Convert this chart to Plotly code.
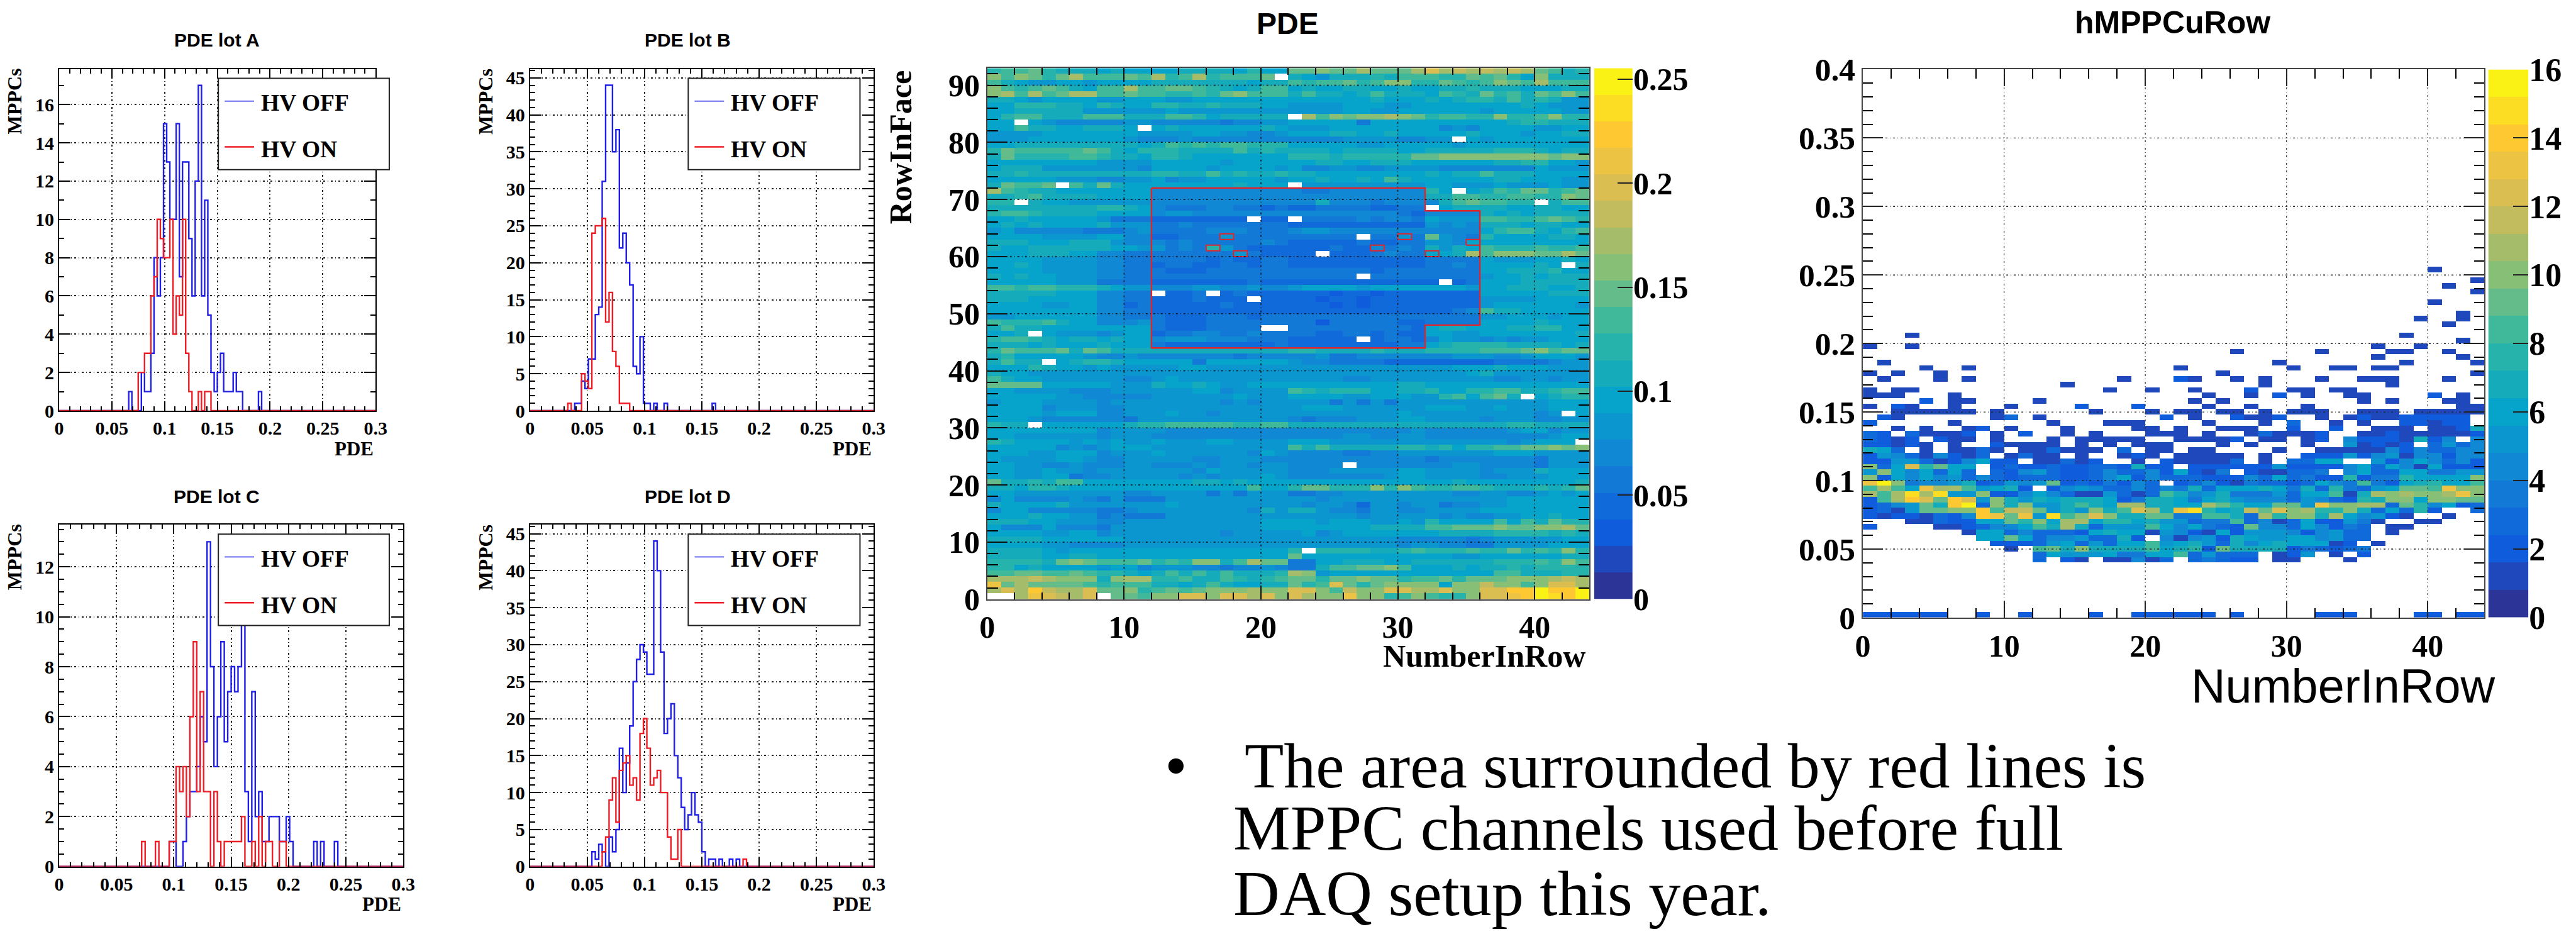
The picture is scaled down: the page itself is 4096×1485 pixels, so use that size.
import plotly.graph_objects as go

W, H = 5079.0, 1842.0
SCALE = 4096 / 5079

# ---------- 1-D histograms: 100 bins of width 0.003 ----------
N_BINS = 100
BIN_WIDTH = 0.003
A_OFF = {22:1,26:2,27:1,28:1,29:3,30:8,31:6,32:8,33:15,34:13,35:10,36:10,37:15,38:7,39:13,40:13,41:9,42:6,43:12,44:17,45:6,46:11,47:5,48:2,49:1,50:2,51:3,52:1,53:1,54:1,55:2,56:1,57:1,63:1}
A_ON = {25:2,26:2,27:3,28:3,29:6,30:7,31:10,32:9,33:8,34:8,35:10,36:4,37:6,38:5,39:10,40:3,41:1,44:1,46:1,47:1}
B_OFF = {13:1,14:1,15:4,16:3,17:7,18:7,19:13,20:14,21:31,22:44,23:44,24:35,25:38,26:22,27:24,28:20,29:17,30:6,31:5,32:10,33:1,34:1,36:1,39:1,53:1}
B_ON = {11:1,15:5,16:4,17:3,18:24,19:25,20:25,21:26,22:12,23:16,24:8,25:6,26:1,27:1,28:1}
C_OFF = {32:1,33:1,36:1,37:2,38:3,39:3,40:4,41:6,42:5,43:13,44:8,45:4,46:6,47:9,48:5,49:7,50:8,51:7,52:8,53:11,54:3,55:1,56:7,57:2,58:3,59:1,60:1,61:2,62:2,63:2,64:1,65:1,66:2,67:1,74:1,76:1,80:1}
C_ON = {24:1,28:1,32:1,33:1,34:4,35:3,36:4,37:2,38:6,39:9,40:3,41:7,42:3,43:3,45:3,46:1,48:1,49:1,50:1,51:1,52:1,53:2,56:1,58:2,60:1,61:1,64:1,65:1}
D_OFF = {18:2,19:1,20:3,21:2,23:4,24:2,25:5,26:16,27:10,28:14,29:19,30:25,31:28,32:30,33:29,34:26,35:26,36:44,37:40,38:29,39:18,40:20,41:22,42:15,43:12,44:8,45:5,46:7,47:10,48:7,49:6,50:2,52:1,53:1,55:1,58:1,60:1}
D_ON = {21:2,22:4,23:9,24:12,25:6,26:13,27:14,28:15,29:11,30:12,31:9,32:18,33:20,34:16,35:11,36:12,37:13,38:10,39:10,40:4,41:1,42:1,43:5,62:1}

PDE_TICKS = [0, 0.05, 0.1, 0.15, 0.2, 0.25, 0.3]
PDE_TEXT = ["0", "0.05", "0.1", "0.15", "0.2", "0.25", "0.3"]
A_YTICKS = [0, 2, 4, 6, 8, 10, 12, 14, 16]
B_YTICKS = [0, 5, 10, 15, 20, 25, 30, 35, 40, 45]
C_YTICKS = [0, 2, 4, 6, 8, 10, 12]
D_YTICKS = [0, 5, 10, 15, 20, 25, 30, 35, 40, 45]
LEGEND_NAMES = ["HV OFF", "HV ON"]
PANEL_TITLES = ["PDE lot A", "PDE lot B", "PDE lot C", "PDE lot D"]

# ---------- PDE map: colour band per cell (0-9,a-j), rows from RowInFace 92 down to 0 ----------
PDE_ROWS = [
"9aab988878777788887977" "bbcbbdbbbdfdedededba89",
"cacb9bdaaabad9ad9aaab9" "87688898aaa99bab97c888",
"a876677677778888888788a9aab9acc99ba9acbadaaa",
"ca9aba87aadaabba9878aa7877887787788988877788",
"cdadabddaabaa99a9bcaaa8a8878a8887a98b9a8baca",
"88767777667776677777777777778777878998a89866",
"77999887987799889888776666777667777777787666",
"77888886666667666666666666776677777767777766",
"79aa888aaa888aa97888887dacbccdcb9aa99c99ac99",
"77776555556655555455667777747777777777899888",
"77a88778887878777777876667777777756577776677",
"66667777777666677665567778877877777877767788",
"66677777776555655555555555666655667767777777",
"7788888888878a9a9aa999" "7777766777776777777777",
"9baaaaaba879998888a8988887888877888889998788",
"8b9999aa98879987777777999899999bbccccccccbcc",
"77777777666677777677777788778887777778899776",
"78886666666577776777767556655666655555557666",
"8898888888889988a89889" "88777777778788a8887777",
"77777666556675667777767787787a87777778877766",
"8baabaa8b87777777787777666666666776667666766",
"da98877777775555555555" "5445555555" "97878a9bb9ab",
"889a88887777" "5555555555" "5555555555" "88aa99aa99cb",
"998877666666" "5555555555" "5585554555" "58abaa9988aa",
"888888889987" "5444554434" "3344443344" "578888778877",
"9aa988887777" "5665555555" "5555555543" "555587878888",
"778777776444" "3333333333" "3444454554" "7666aa99aba9",
"787877778666" "4454444444" "3333333333" "656588878877",
"675555544456" "4444555444" "5665555555" "555579aa879a",
"777766667755" "3344464444" "4444434464" "b65497777887",
"888777888655" "5454444454" "3333343344" "665777777777",
"877888888776" "6454964333" "3334335454" "8687a999a99a",
"777888775544" "4444446433" "3333334544" "778dacccbbdb",
"777766665544" "4444343344" "3333333333" "444476667787",
"778766665544" "3443344344" "3333333333" "445477778778",
"777766665544" "4333444444" "4444443444" "444477888977",
"878776665544" "4444444444" "4444444444" "444467787888",
"777776664444" "3333333433" "3333333333" "333477788888",
"aa9aa9998766" "5556655655" "6777767777" "777677888778",
"888887775544" "3334334333" "3332332333" "333377777888",
"888777775544" "3334333333" "3323323333" "333366667777",
"777766775534" "3333343333" "3332323333" "333367777776",
"777777775544" "3333333333" "3333333333" "3345a8877777",
"667777775544" "4333444344" "4444444444" "444466777677",
"a999a8775556" "4333444444" "4424444433" "444477778777",
"8a8877777777" "4333444444" "4444444443" "788777889977",
"778776665677" "3445544544" "4433443433" "776677777778",
"9aa987887877" "5666555444" "3333333443" "576656566777",
"888787778777" "4333333334" "3333333344" "789999888878",
"9baaab8ba888" "8888888888" "9988889888" "9999aaabcabb",
"897777765565" "5555554555" "5564455555" "556665567776",
"8a8887899877" "7774777777" "6554444333" "333334444566",
"777987767666" "6677666666" "6666666666" "667778777666",
"877666666666" "6666666666" "6666666666" "666786666666",
"a87766666655" "6766666666" "6666556666" "666665566566",
"bbbb77777666" "8778766777" "7777777788" "777777777777",
"776666555666" "6667756666" "a989997788" "97799aa889aa",
"777776655555" "6666667666" "7777667776" "69a7ab887899",
"677766665666" "6666656566" "6664646466" "666666666777",
"777756665566" "6666666666" "6777666666" "777667666777",
"777767775566" "6766566666" "6666666676" "666666665667",
"777655555546" "6666666666" "5455566677" "666656665566",
"988777777789" "9aaaaa99aa" "8888888888" "888888998888",
"777777775666" "6555555555" "5555555556" "555555677566",
"776666665666" "5555555555" "5555665566" "555555555677",
"987777676766" "7666776666" "7776666666" "666666567778",
"777775656777" "6666666666" "a8a8888899" "89799aabbcbc",
"777667775666" "7666666576" "5555445566" "666667776666",
"766667765566" "6665566655" "5555555555" "455555554666",
"776655655566" "5556566566" "5555555555" "556655554666",
"776676656666" "6665766666" "5556666677" "666656668777",
"776677455666" "6656566676" "5555555677" "666655666777",
"b8898aa77777" "7778878777" "7777777777" "778777777778",
"887998777777" "7777777a77" "9bb999c9ca" "99aa9888989b",
"776666666655" "6666464666" "4455666666" "665566556767",
"575555654644" "4666666666" "6656666666" "666666777777",
"877778666666" "6766666666" "6566536656" "645566777777",
"577555554456" "6666666586" "8865546655" "666677777777",
"777877664544" "4666666666" "6666656666" "656556677877",
"888776665566" "6666666677" "7767776676" "97777a7a8b99",
"755575554666" "6666666677" "7777778888" "aabbbcbbccdb",
"777766775666" "6666656666" "6756777777" "788889999898",
"888877777766" "6666666666" "6666666655" "555456666677",
"777766555566" "6666666666" "6666666656" "655446666777",
"888876777777" "7777777777" "989999889a" "999a99b9a9c9",
"888877887777" "7777777777" "b777777777" "776677777788",
"99998bcbaaab" "9a9cc8adbb" "4477888778" "88888999a9ca",
"997877776775" "6665545565" "448aabbca7" "778788989999",
"aabbaaba9987" "8a8a8a8889" "dc67777777" "77777aa88899",
"dddedccc8cdd" "99a88a989a" "bb9bbcbb9a" "ab9bbbcccded",
"gbdbbbba9aaa" "8878a87788" "b9afb9bccc" "c7cceccacffd",
"dfdheddfbbc9" "ababcccdcc" "ffcaeccffd" "dfccffhhjhhj",
"bbdgfedfbbba" "ccffcffdfc" "fdccgcc9ac" "a99cffghjihj",
]
# cells without a value (column, row)
PDE_EMPTY = [(21,91),(2,83),(11,82),(5,72),(2,69),(19,66),(12,53),(16,53),(19,52),(20,47),(21,47),(3,46),
             (22,84),(34,80),(22,72),(34,71),(40,69),(32,68),(22,66),(27,63),(24,60),(42,58),(27,56),(33,55),
             (4,41),(3,30),(0,0),(1,0),(8,0),(27,45),(39,35),(42,32),(43,27),(26,23),(23,8)]
PDE_ZMAX = 0.2553
PDE_XTICKS = [0, 10, 20, 30, 40]
PDE_YTICKS = [0, 10, 20, 30, 40, 50, 60, 70, 80, 90]
PDE_CBAR_TICKS = [0, 0.05, 0.1, 0.15, 0.2, 0.25]
PDE_CBAR_TEXT = ["0", "0.05", "0.1", "0.15", "0.2", "0.25"]
# red outline of the channels in use, and the single channels boxed in red
AREA_X = [12, 32, 32, 36, 36, 32, 32, 12, 12]
AREA_Y = [72, 72, 68, 68, 48, 48, 44, 44, 72]
BOXED_CELLS = [(17,63),(16,61),(18,60),(30,63),(28,61),(35,62),(32,60)]

# ---------- hMPPCuRow map: colour band per cell, '.' empty, rows from bin 63 down to bin 9, then bin 0 ----------
HIST_LEFT = [
"......................","......................","......................",
"......................","......................","......................",
"......................","......................","......................",
"......................","......................","......................",
"...1..................","......................","1..1..................",
"......................","......................",".1....................",
"....1..1..............","1.1..1................",".1...1.1..........1...",
"..............1.......","1.11.............1..1.","111...1...............",
"....2.11....1.........","1.21..1...1....2...2..","..111111.1......1...1.",
".21......13.1........2","2.....1......1...111..","..1.1..12.1...1....11.",
"32.31112.1.2..1.1...11","3212.211.1...1.11111..","22121.1..21111.1.1.111",
"873.1.1131.113111.3.11","265315213.1311.1..121.","22663125722.11312..1.2",
"c37f9b77.2322322332822","6c757373.3256322353352","c275756353233322357253",
"gjc4556823656b2324253.","ada7gdda6782.256533535","dadidi66c225753116313a",
"2adhfbhf6c868788872488","2356b8hj3c8c668a87dd88","2316bbcchaeeb686c8afd8",
"21221325hgbg6iacfc88bb","...1132277b9c7dd799786","2....1123557a8d83666a7",
".......177353332787716","........77b735563382.5",".........22236736377a6",
"..........1.ab8c8888a7","............3766674477","............3.21.11513",
"..............1.....1.",
]
HIST_RIGHT = [
"..................1...","......................",".....................1",
"...................1..",".....................1","......................",
"..................1...","......................","....................1.",
".................1..1.","...................1..","......................",
"................1.....","....................1.","..............1..1....",
"....1.....1....11..1..","..............1.....1.",".......1........1....1",
"1.......1..11.11......","...1.................1","21..1.1...1..111...1..",
"......1........1......",".1...2..11.11.........","..1..1.2.1..11....2.1.",
".1.1.........1.1...11.","..1..1...1..........11","11.11.1.111..111.11111",
".1..2112..1.121122222.","..1...1.3..1.1..22122.","1..111..2..2..111.1128",
"1.1..131112..112111112","11112.11.12.52221825.5","...1.1...1..61212.3635",
".11....1..111115253355","11111.1..2226256155255","11113.1.3377..62575352",
".222222622225737517222","7214.211334.5733774466","332225373422924497777c",
"2352143323754a4278977a","4837778748394367bbagcc","85684446377a18dcdccdgc",
"747865553653298cc7ccbb","77db977bb6gccdd3b95723","gi978ebfcd99c837392..3",
"44aa83d9cc8d75621..1..","6344a3513722641..11...","57432b55375243.11.....",
"52172666525633.1......","15628766775633........","7863857877712.1.......",
"892b8888243234........","a36333.126.1.2........",".34322.11...1.........",
]
HIST_BIN0 = "222222..2..2....2..222" "222.2.....222....22.22"
HIST_TOP_BIN = 63
HIST_LOW_BIN = 9
HIST_ZMAX = 16
HIST_XTICKS = [0, 10, 20, 30, 40]
HIST_YTICKS = [0, 0.05, 0.1, 0.15, 0.2, 0.25, 0.3, 0.35, 0.4]
HIST_YTEXT = ["0", "0.05", "0.1", "0.15", "0.2", "0.25", "0.3", "0.35", "0.4"]
HIST_CBAR_TICKS = [0, 2, 4, 6, 8, 10, 12, 14, 16]
NOTE_LINES = ["The area surrounded by red lines is", "MPPC channels used before full", "DAQ setup this year."]

# ---------- helpers ----------
SERIF = "Liberation Serif"
SANS = "Liberation Sans"
BLUE, RED = "#1f1fe8", "#ee1c25"
GRID = "3px,4px,1px,4px"

BIRD = [(0.2082,0.1664,0.5293),(0.0592,0.3599,0.8684),(0.0780,0.5041,0.8385),(0.0232,0.6419,0.7914),
        (0.1802,0.7178,0.6425),(0.5301,0.7492,0.4662),(0.8186,0.7328,0.3499),(0.9956,0.7862,0.1968),(0.9764,0.9832,0.0539)]
def bird(t):
    p = t * (len(BIRD) - 1)
    i = min(int(p), len(BIRD) - 2)
    f = p - i
    c = [BIRD[i][k] + (BIRD[i + 1][k] - BIRD[i][k]) * f for k in range(3)]
    return "rgb(%d,%d,%d)" % tuple(round(v * 255) for v in c)
N_BANDS = 20
COLORSCALE = []
for b in range(N_BANDS):
    col = bird((b + 0.5) / N_BANDS)
    COLORSCALE += [[b / N_BANDS, col], [(b + 1) / N_BANDS, col]]

BAND = "0123456789abcdefghij"
def px(x): return x / W
def py(y): return 1 - y / H

fig = go.Figure()
annotations, shapes = [], []

def text(x, y, s, size, family=SERIF, weight=700, anchor="center", angle=0):
    annotations.append(dict(x=px(x), y=py(y), xref="paper", yref="paper", text=s, showarrow=False,
                            xanchor=anchor, yanchor="middle", textangle=angle,
                            font=dict(family=family, size=size, color="black", weight=weight)))

def axis_common(fontsize, major, minor):
    return dict(automargin=False, showline=True, linecolor="black", linewidth=2, mirror="ticks", ticks="inside",
                tickcolor="black", tickwidth=2, ticklen=major, zeroline=False, showgrid=False,
                tickfont=dict(family=SERIF, size=fontsize, color="black", weight=700),
                minor=dict(ticks="inside", ticklen=minor, tickcolor="black", tickwidth=1.5, showgrid=False))

def expand(values):
    return [values.get(i, 0) for i in range(N_BINS)]

EDGES = [i * BIN_WIDTH for i in range(N_BINS + 1)]

panels = [
    dict(off=A_OFF, on=A_ON, box=(116.5, 740.5, 136, 810), ymax=17.86, yt=A_YTICKS, ym=1, title=PANEL_TITLES[0],
         tx=427.7, ty=78.8, ylx=28.7, yly=200, plx=739, ply=885, leg=(430.5, 767.5, 154.5, 334.5)),
    dict(off=B_OFF, on=B_ON, box=(1045, 1722.6, 136, 810), ymax=46.2, yt=B_YTICKS, ym=1, title=PANEL_TITLES[1],
         tx=1356, ty=78.8, ylx=957, yly=200, plx=1721, ply=885, leg=(1357, 1695.6, 154.5, 334.5)),
    dict(off=C_OFF, on=C_ON, box=(116.5, 795, 1035, 1709), ymax=13.68, yt=C_YTICKS, ym=0.5, title=PANEL_TITLES[2],
         tx=427.7, ty=979, ylx=28.7, yly=1099, plx=793, ply=1783.5, leg=(430.5, 767.5, 1053.5, 1233.5)),
    dict(off=D_OFF, on=D_ON, box=(1045, 1722.6, 1035, 1709), ymax=46.2, yt=D_YTICKS, ym=1, title=PANEL_TITLES[3],
         tx=1356, ty=979, ylx=957, yly=1099, plx=1721, ply=1783.5, leg=(1357, 1695.6, 1053.5, 1233.5)),
]

layout = dict(template="none", width=4096, height=1485, margin=dict(l=0, r=0, t=0, b=0, pad=0), autosize=False,
              paper_bgcolor="white", plot_bgcolor="white", showlegend=False)

axis_no = 0
for p in panels:
    axis_no += 1
    xa, ya = "x%d" % axis_no, "y%d" % axis_no
    xk, yk = "xaxis%d" % axis_no, "yaxis%d" % axis_no
    L, R, T, B = p["box"]
    for vals, color in ((p["off"], BLUE), (p["on"], RED)):
        ys = expand(vals)
        fig.add_trace(go.Scatter(x=EDGES, y=ys + [ys[-1]], mode="lines", xaxis=xa, yaxis=ya,
                                 line=dict(color=color, width=2.4, shape="hv"), hoverinfo="skip"))
    xax = axis_common(30, 15, 7)
    xax.update(domain=[px(L), px(R)], range=[0, 0.3], anchor=ya, tickmode="array", tickvals=PDE_TICKS, ticktext=PDE_TEXT,
               showgrid=True, gridcolor="#222222", griddash=GRID, gridwidth=1.5)
    xax["minor"].update(tick0=0, dtick=0.01)
    yax = axis_common(30, 18, 8)
    yax.update(domain=[py(B), py(T)], range=[0, p["ymax"]], anchor=xa, tickmode="array", tickvals=p["yt"],
               ticktext=[str(v) for v in p["yt"]], showgrid=True, gridcolor="#222222", griddash=GRID, gridwidth=1.5)
    yax["minor"].update(tick0=0, dtick=p["ym"])
    layout[xk], layout[yk] = xax, yax
    text(p["tx"], p["ty"], p["title"], 30, family=SANS)
    text(p["ylx"], p["yly"], "MPPCs", 32, angle=-90)
    text(p["plx"], p["ply"], "PDE", 31, anchor="right")
    # legend box
    ll, lr, lt, lb = p["leg"]
    shapes.append(dict(type="rect", xref="paper", yref="paper", x0=px(ll), x1=px(lr), y0=py(lb), y1=py(lt),
                       fillcolor="white", line=dict(color="#222222", width=2), layer="above"))
    h = lb - lt
    for name, color, kf, tf, lw in ((LEGEND_NAMES[0], BLUE, 0.25, 0.27, 1.5), (LEGEND_NAMES[1], RED, 0.75, 0.78, 2.5)):
        shapes.append(dict(type="line", xref="paper", yref="paper", x0=px(ll + 12.5), x1=px(ll + 70.5),
                           y0=py(lt + h * kf), y1=py(lt + h * kf), line=dict(color=color, width=lw), layer="above"))
        text(ll + 82, lt + h * tf, name, 37.5, anchor="left")

# ---------- PDE map ----------
pde_z = []
for row in PDE_ROWS[:93]:
    row = row[:44].ljust(44, row[-1])
    pde_z.append([(BAND.index(c) + 0.5) * PDE_ZMAX / N_BANDS for c in row])
pde_z.reverse()                    # first row of the matrix = RowInFace 0
for col, row in PDE_EMPTY:
    pde_z[row][col] = None

fig.add_trace(go.Heatmap(z=pde_z, x0=0.5, dx=1, y0=0.5, dy=1, xaxis="x5", yaxis="y5", zmin=0, zmax=PDE_ZMAX,
                         colorscale=COLORSCALE, hoverinfo="skip", xgap=0, ygap=0, showscale=False))
fig.add_trace(go.Scatter(x=AREA_X, y=AREA_Y, mode="lines", xaxis="x5", yaxis="y5",
                         line=dict(color="#e0242c", width=2.4), hoverinfo="skip"))
for c, r in BOXED_CELLS:
    fig.add_trace(go.Scatter(x=[c, c + 1, c + 1, c, c], y=[r, r, r + 1, r + 1, r], mode="lines", xaxis="x5", yaxis="y5",
                             line=dict(color="#e0242c", width=2), hoverinfo="skip"))

xax = axis_common(50, 22, 11)
xax.update(domain=[px(1946.5), px(3133.7)], range=[0, 44], anchor="y5", tickmode="array", tickvals=PDE_XTICKS,
           ticktext=[str(v) for v in PDE_XTICKS], linewidth=1.5, linecolor="#444444", tickcolor="#111111")
xax["minor"].update(tick0=0, dtick=2)
yax = axis_common(50, 32, 17)
yax.update(domain=[py(1181.7), py(134.4)], range=[0, 93], anchor="x5", tickmode="array", tickvals=PDE_YTICKS,
           ticktext=[str(v) for v in PDE_YTICKS], linewidth=1.5, linecolor="#444444", tickcolor="#111111")
yax["minor"].update(tick0=0, dtick=2)
layout["xaxis5"], layout["yaxis5"] = xax, yax
for v in PDE_XTICKS[1:]:
    shapes.append(dict(type="line", xref="x5", yref="y5", x0=v, x1=v, y0=0, y1=93, layer="above",
                       line=dict(color="#111111", width=1.5, dash=GRID)))
for v in PDE_YTICKS[1:]:
    shapes.append(dict(type="line", xref="x5", yref="y5", x0=0, x1=44, y0=v, y1=v, layer="above",
                       line=dict(color="#111111", width=1.5, dash=GRID)))
text(2538.6, 47, "PDE", 48, family=SANS)
text(3129, 1294, "NumberInRow", 50, anchor="right")
text(1775, 290, "RowInFace", 50, angle=-90)

# ---------- hMPPCuRow map ----------
N_Y = 100
hist_z = [[None] * 44 for _ in range(N_Y)]
def put(bin_y, row):
    for col, c in enumerate(row[:44]):
        if c != ".":
            hist_z[bin_y][col] = (BAND.index(c) + 0.5) * HIST_ZMAX / N_BANDS
for k, (left, right) in enumerate(zip(HIST_LEFT, HIST_RIGHT)):
    if HIST_TOP_BIN - k >= HIST_LOW_BIN:
        put(HIST_TOP_BIN - k, left.ljust(22, ".")[:22] + right.ljust(22, ".")[:22])
put(0, HIST_BIN0)

fig.add_trace(go.Heatmap(z=hist_z, x0=0.5, dx=1, y0=0.002, dy=0.004, xaxis="x6", yaxis="y6", zmin=0, zmax=HIST_ZMAX,
                         colorscale=COLORSCALE, hoverinfo="skip", showscale=False))
xax = axis_common(50, 27, 15)
xax.update(domain=[px(3673), px(4898)], range=[0, 44], anchor="y6", tickmode="array", tickvals=HIST_XTICKS,
           ticktext=[str(v) for v in HIST_XTICKS], linewidth=1.5, linecolor="#444444", tickcolor="#222222")
xax["minor"].update(tick0=0, dtick=2)
yax = axis_common(51.5, 32, 16)
yax.update(domain=[py(1218), py(137)], range=[0, 0.4], anchor="x6", tickmode="array", tickvals=HIST_YTICKS,
           ticktext=HIST_YTEXT, linewidth=1.5, linecolor="#444444", tickcolor="#222222")
yax["minor"].update(tick0=0, dtick=0.01)
layout["xaxis6"], layout["yaxis6"] = xax, yax
for v in HIST_XTICKS[1:]:
    shapes.append(dict(type="line", xref="x6", yref="y6", x0=v, x1=v, y0=0, y1=0.4, layer="above",
                       line=dict(color="#333333", width=1.2, dash=GRID)))
for v in HIST_YTICKS[1:-1]:
    shapes.append(dict(type="line", xref="x6", yref="y6", x0=0, x1=44, y0=v, y1=v, layer="above",
                       line=dict(color="#222222", width=1.4, dash=GRID)))
text(4283, 45, "hMPPCuRow", 50, family=SANS)
text(4620, 1353, "NumberInRow", 75.6, family=SANS, weight=400)

# ---------- colour scales, as small subplots of their own ----------
def colour_scale(no, x0, x1, top, bottom, zmax, tickvals, ticktext, size):
    xk, yk = "x%d" % no, "y%d" % no
    band_z = [[(b + 0.5) * zmax / N_BANDS] for b in range(N_BANDS)]
    fig.add_trace(go.Heatmap(z=band_z, x0=0.5, dx=1, y0=zmax / N_BANDS / 2, dy=zmax / N_BANDS, xaxis=xk, yaxis=yk,
                             zmin=0, zmax=zmax, colorscale=COLORSCALE, showscale=False, hoverinfo="skip"))
    layout["xaxis%d" % no] = dict(automargin=False, domain=[px(x0), px(x1)], range=[0, 1], anchor=yk, showticklabels=False,
                                  ticks="", showgrid=False, zeroline=False, showline=False)
    layout["yaxis%d" % no] = dict(automargin=False, domain=[py(bottom), py(top)], range=[0, zmax], anchor=xk, side="right",
                                  tickmode="array", tickvals=tickvals, ticktext=ticktext, ticks="inside", ticklen=24,
                                  tickcolor="#222222", tickwidth=2, showgrid=False, zeroline=False, showline=False,
                                  tickfont=dict(family=SERIF, size=size, color="black", weight=700))

colour_scale(7, 3143, 3219, 134.4, 1181.7, PDE_ZMAX, PDE_CBAR_TICKS, PDE_CBAR_TEXT, 50)
colour_scale(8, 4906, 4985, 137, 1218, HIST_ZMAX, HIST_CBAR_TICKS, [str(v) for v in HIST_CBAR_TICKS], 52)

# ---------- note ----------
text(2319, 1510, "\u2022", 102, weight=400)
text(2452, 1510, NOTE_LINES[0], 102, anchor="left", weight=400)
text(2429, 1633, NOTE_LINES[1], 102, anchor="left", weight=400)
text(2429, 1762, NOTE_LINES[2], 102, anchor="left", weight=400)

layout["annotations"] = annotations
layout["shapes"] = shapes
fig.update_layout(**layout)
fig.write_html("out.html", include_plotlyjs=True, full_html=True,
               config={"displayModeBar": False, "responsive": False},
               post_script="document.body.style.margin='0';document.documentElement.style.overflow='hidden';")
